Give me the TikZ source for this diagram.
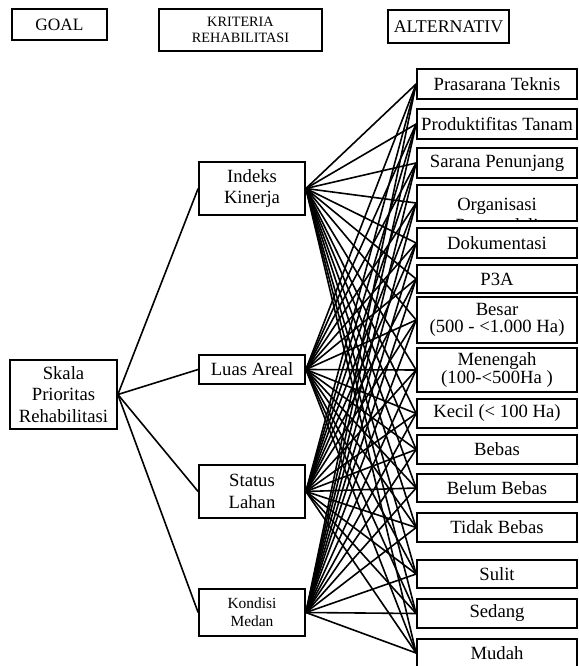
\documentclass[tikz,border=0pt]{standalone}
\usepackage{fontspec}
\setmainfont{Liberation Serif}
\begin{document}
\begin{tikzpicture}[x=0.75pt, y=-0.75pt]
        \tikzstyle{head_box} = [shape = rectangle, draw = black, line width=1.3pt, inner sep=0pt, align=center]
        \tikzstyle{crit_box} = [shape = rectangle, draw = black, line width=1.3pt, inner sep=0pt, align=center, minimum width=79.5pt, font=\fontsize{14}{16.25}\selectfont]
        \tikzstyle{alt_box}  = [shape = rectangle, draw = black, line width=1.3pt, inner sep=0pt, align=center, minimum width=120pt, font=\fontsize{14}{13}\selectfont]
        \tikzstyle{link}     = [line width=1.2pt]

        \useasboundingbox (0,0) rectangle (578,666);

        % headers
        \node[head_box, minimum width=71.25pt, minimum height=23.25pt, font=\fontsize{13}{15}\selectfont] at (59.5, 24.5) (h_goal) {GOAL};
        \node[head_box, minimum width=122.25pt, minimum height=31.5pt, font=\fontsize{10.7}{12.5}\selectfont] at (240.5, 30) (h_crit) {KRITERIA\\REHABILITASI};
        \node[head_box, minimum width=90.75pt, minimum height=24.75pt, font=\fontsize{13.4}{15}\selectfont] at (448.5, 26.5) (h_alt) {ALTERNATIV};

        % goal
        \node[head_box, minimum width=80.25pt, minimum height=51.75pt, font=\fontsize{14}{16.25}\selectfont] at (63.5, 394.5) (goal) {Skala\\Prioritas\\Rehabilitasi};

        % kriteria
        \node[crit_box, minimum height=39.75pt] at (252, 188.5) (k1) {Indeks\\Kinerja};
        \node[crit_box, minimum height=21.75pt] at (252, 369.5) (k2) {Luas Areal};
        \node[crit_box, minimum height=39.75pt] at (252, 491.5) (k3) {Status\\Lahan};
        \node[crit_box, minimum height=35.25pt, font=\fontsize{11.6}{13.75}\selectfont] at (252, 612.5) (k4) {Kondisi\\Medan};

        % alternatif
        \node[alt_box, minimum height=22.5pt]  at (497, 84)    (a1)  {Prasarana Teknis};
        \node[alt_box, minimum height=22.5pt]  at (497, 124)   (a2)  {Produktifitas Tanam};
        \node[alt_box, minimum height=22.5pt]  at (497, 163)   (a3)  {Sarana Penunjang};
        \node[alt_box, minimum height=27pt]    at (497, 203)   (a4)  {};
        \node[alt_box, minimum height=22.5pt]  at (497, 243)   (a5)  {Dokumentasi};
        \node[alt_box, minimum height=21pt]    at (497, 279)   (a6)  {P3A};
        \node[alt_box, minimum height=34.5pt]  at (497, 320)   (a7)  {Besar\\(500 - <1.000 Ha)};
        \node[alt_box, minimum height=33pt, font=\fontsize{14}{13.75}\selectfont] at (497, 370) (a8) {Menengah\\(100-<500Ha )};
        \node[alt_box, minimum height=21.75pt] at (497, 413.5) (a9)  {Kecil (< 100 Ha)};
        \node[alt_box, minimum height=21.75pt] at (497, 449.5) (a10) {Bebas};
        \node[alt_box, minimum height=21pt]    at (497, 488)   (a11) {Belum Bebas};
        \node[alt_box, minimum height=21.75pt] at (497, 527.5) (a12) {Tidak Bebas};
        \node[alt_box, minimum height=21pt]    at (497, 574)   (a13) {Sulit};
        \node[alt_box, minimum height=21.75pt] at (497, 613.5) (a14) {Sedang};
        \node[alt_box, minimum height=21pt]    at (497, 653)   (a15) {Mudah};

        % text of a4, cut off by its box
        \begin{scope}
          \clip (a4.north west) rectangle (a4.south east);
          \node[align=center, inner sep=0pt, font=\fontsize{14}{16.25}\selectfont] at (497, 217) (a4_text) {Organisasi\\Pengendali};
        \end{scope}

        \draw[link]
          (goal.east) edge (k1.west)
          (goal.east) edge (k2.west)
          (goal.east) edge (k3.west)
          (goal.east) edge (k4.west)
        ;

        \foreach \k in {k1, k2, k3, k4}
          \foreach \a in {1, ..., 15}
            \draw[link] (\k.east) -- (a\a.west);
      \end{tikzpicture}
\end{document}
